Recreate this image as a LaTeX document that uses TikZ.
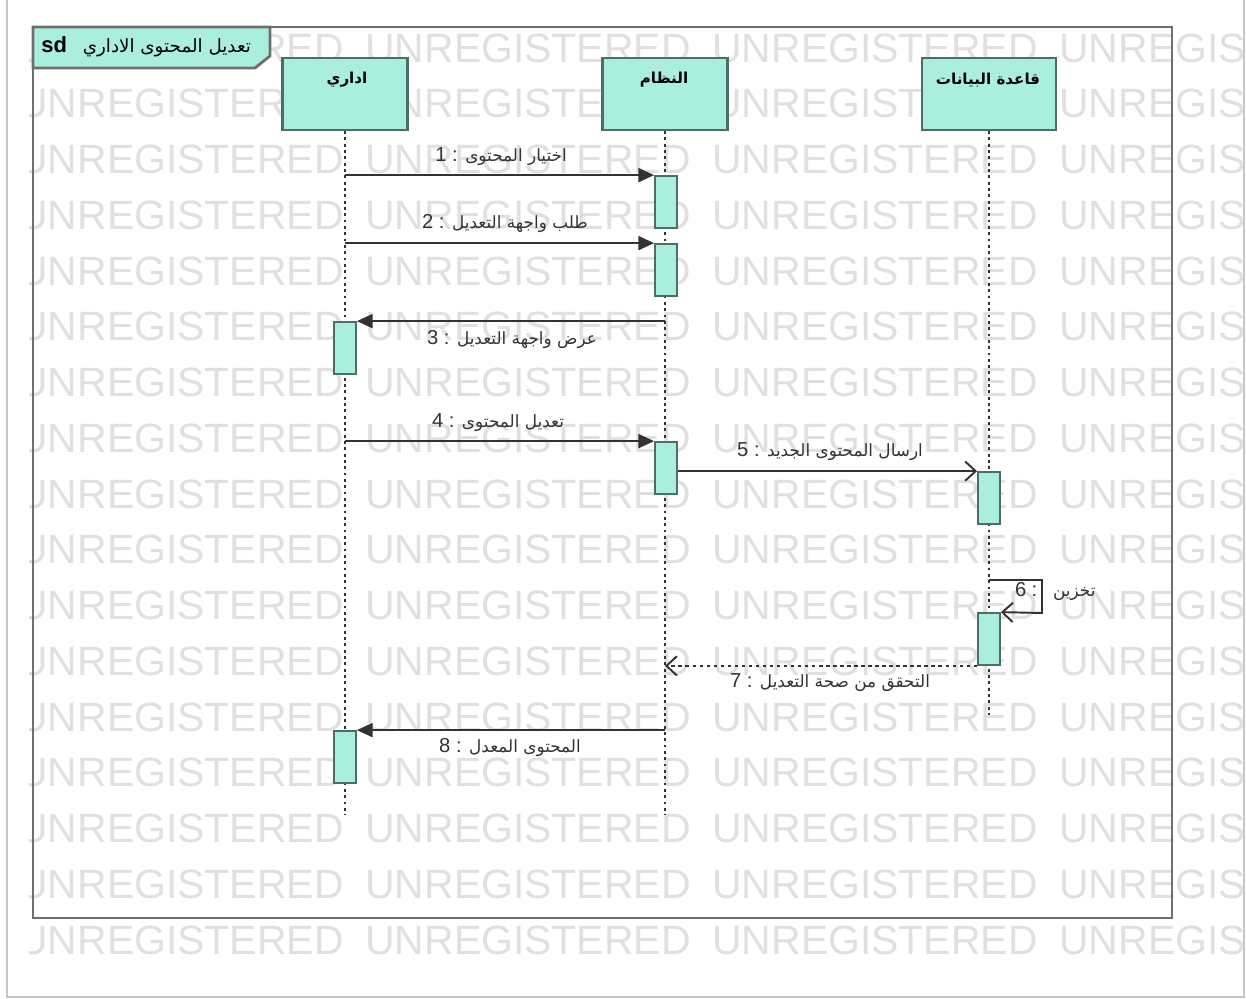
\documentclass[tikz,border=0pt]{standalone}
\usepackage{fontspec}
\setmainfont{Liberation Sans}
\newfontfamily\arabicfont[Script=Arabic]{DejaVu Sans}
\TeXXeTstate=1
\usetikzlibrary{arrows.meta}
\definecolor{actfill}{RGB}{170,238,224}
\definecolor{actdraw}{RGB}{75,110,104}
\definecolor{msgcol}{RGB}{50,50,50}
\definecolor{wmcol}{RGB}{224,224,224}
\definecolor{framecol}{RGB}{110,110,110}
\tikzset{
  wmark/.style={anchor=west, inner sep=0pt, text=wmcol, font=\fontsize{23.3}{28}\selectfont},
  head/.style={draw=actdraw, fill=actfill, line width=1.3pt, minimum width=2.5cm, minimum height=1.44cm, inner sep=0pt},
  headtxt/.style={font=\fontsize{8.6}{11}\selectfont\bfseries\arabicfont, inner sep=0pt},
  act/.style={draw=actdraw, fill=actfill, line width=1pt, minimum width=0.44cm, minimum height=1.04cm, inner sep=0pt},
  lifeline/.style={draw=msgcol, line width=0.9pt, dash pattern=on 1.6pt off 2pt},
  msgf/.style={draw=msgcol, line width=1.1pt, -{Triangle[length=9pt,width=8pt]}},
  msgo/.style={draw=msgcol, line width=1.1pt, -{Straight Barb[length=6pt,width=11pt]}},
  msgd/.style={msgo, dash pattern=on 2pt off 2pt},
  lbl/.style={inner sep=1pt, text=msgcol, font=\fontsize{11.5}{13}\selectfont},
}
\newcommand{\arsz}{\arabicfont\fontsize{9.6}{11}\selectfont}
\begin{document}
\begin{tikzpicture}[x=0.02cm,y=-0.02cm]
\useasboundingbox (0,0) rectangle (1246,999);
% screenshot border
\draw[gray!45, line width=1pt] (7,0) -- (7,997) -- (1244,997) -- (1244,0);
% watermark
\begin{scope}
\clip (29,0) rectangle (400,999);
\foreach \r in {0,...,16} {
  \node[wmark] (w\r-0) at (18,{48+55.75*\r}) {UNREGISTERED};
}
\end{scope}
\foreach \r in {0,...,16} {
  \foreach \c in {1,2} {
    \node[wmark] (w\r-\c) at ({18+347*\c},{48+55.75*\r}) {UNREGISTERED};
  }
  \node[wmark] (w\r-3) at (1059,{48+55.75*\r}) {UNREGIS};
}
% frame
\draw[framecol, line width=1.6pt] (33,27) rectangle (1172,918);
\draw[framecol, fill=actfill, line width=1.6pt] (33,27) -- (270,27) -- (270,56) -- (255,68) -- (33,68) -- cycle;
\node[anchor=west, inner sep=0pt, font=\fontsize{12.5}{14}\selectfont] (title) at (41,47)
  {\textbf{sd}\hspace{9pt}{\arabicfont\fontsize{10.4}{12}\selectfont\beginR تعديل المحتوى الاداري\endR}};
% heads
\node[head] (adm) at (345,94) {};
\node[head] (sys) at (665,94) {};
\node[head, minimum width=2.68cm] (db) at (989,94) {};
\node[headtxt] (admT) at (347,80) {\beginR اداري\endR};
\node[headtxt] (sysT) at (664,80) {\beginR النظام\endR};
\node[headtxt] (dbT) at (988,80) {\beginR قاعدة البيانات\endR};
% lifeline ends
\coordinate (admE) at (345,815);
\coordinate (sysE) at (665,815);
\coordinate (dbE) at (989,715);
\draw[lifeline] (adm.south) -- (admE);
\draw[lifeline] (sys.south) -- (sysE);
\draw[lifeline] (db.south) -- (dbE);
% activations
\node[act] (a1) at (666,202) {};
\node[act] (a2) at (666,270) {};
\node[act] (a3) at (345,348) {};
\node[act] (a4) at (666,468) {};
\node[act] (a5) at (989,498) {};
\node[act] (a6) at (989,639) {};
\node[act] (a7) at (345,757) {};
% messages
\draw[msgf] (adm |- a1.north west) -- (a1.north west);
\draw[msgf] (adm |- a2.north west) -- (a2.north west);
\draw[msgf] (sys |- a3.north east) -- (a3.north east);
\draw[msgf] (adm |- a4.north west) -- (a4.north west);
\draw[msgo] (a4.east |- a5.north west) -- (a5.north west);
\coordinate (s6) at (989,580);
\draw[msgo] (s6) -- ++(53,0) -- ++(0,33) -- (a6.north east);
\draw[msgd] (a6.south west) -- (sys |- a6.south west);
\draw[msgf] (sys |- a7.north east) -- (a7.north east);
% labels
\node[lbl] (l1) at (501,157) {1 : {\arsz\beginR اختيار المحتوى\endR}};
\node[lbl] (l2) at (505,224) {2 : {\arsz\beginR طلب واجهة التعديل\endR}};
\node[lbl] (l3) at (512,340) {3 : {\arsz\beginR عرض واجهة التعديل\endR}};
\node[lbl] (l4) at (498,423) {4 : {\arsz\beginR تعديل المحتوى\endR}};
\node[lbl] (l5) at (830,452) {5 : {\arsz\beginR ارسال المحتوى الجديد\endR}};
\node[lbl, anchor=west] (l6) at (1013,592) {6\hspace{3pt}:\hspace{9pt}{\arsz\beginR تخزين\endR}};
\node[lbl] (l7) at (830,683) {7 : {\arsz\beginR التحقق من صحة التعديل\endR}};
\node[lbl] (l8) at (510,748) {8 : {\arsz\beginR المحتوى المعدل\endR}};
\end{tikzpicture}
\end{document}
